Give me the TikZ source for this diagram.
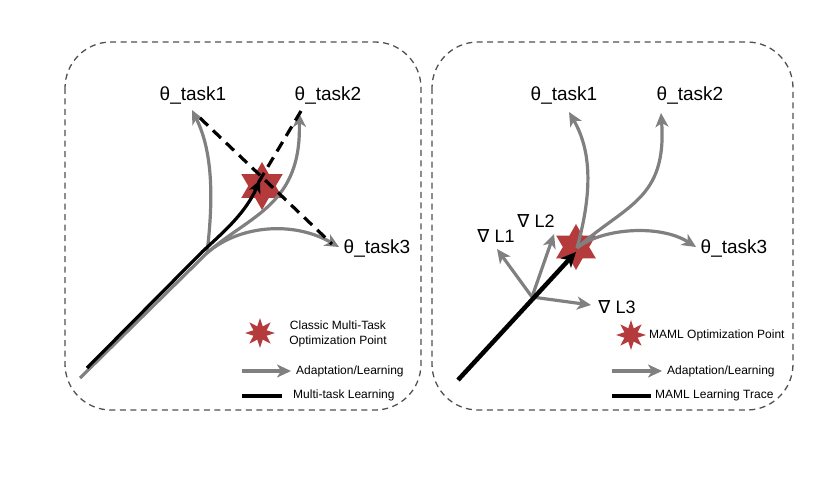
\documentclass[tikz,border=0pt]{standalone}
\usepackage{fontspec}
\setmainfont{Liberation Sans}
\newfontfamily\symfont{DejaVu Sans}
\usetikzlibrary{arrows.meta,shapes.geometric}
\definecolor{starred}{RGB}{180,58,60}
\definecolor{arrgray}{RGB}{128,128,128}
\definecolor{boxgray}{RGB}{80,80,80}
\tikzset{
  panel/.style={draw=boxgray,line width=1.3pt,dash pattern=on 6pt off 4.5pt,rounded corners=46pt},
  adapt/.style={draw=arrgray,line width=3.2pt,-{Stealth[length=14pt,width=13pt,inset=4pt]}},
  adaptnotip/.style={draw=arrgray,line width=3.2pt},
  mtl/.style={draw=black,line width=3.2pt},
  mtlarrow/.style={draw=black,line width=3.2pt,-{Stealth[length=13pt,width=12pt,inset=4pt]}},
  mamlarrow/.style={draw=black,line width=4.5pt,-{Stealth[length=15pt,width=14pt,inset=4pt]}},
  dashline/.style={draw=black,line width=3.2pt,dash pattern=on 11pt off 7pt},
  bigstar/.style={star,star points=6,star point ratio=1.75,fill=starred,inner sep=0pt,minimum size=#1},
  smallstar/.style={star,star points=8,star point ratio=2.1,fill=starred,inner sep=0pt,minimum size=#1},
  lbl/.style={font=\fontsize{19}{22}\selectfont,inner sep=0pt},
  leg/.style={font=\fontsize{12}{14.5}\selectfont,inner sep=0pt,align=center},
}
\begin{document}
\begin{tikzpicture}[x=1pt,y=-1pt]
\useasboundingbox (0,0) rectangle (832,492);
% panels
\draw[panel] (65,42) rectangle (421,410);
\draw[panel] (432,42) rectangle (793,410);

% ===== left panel =====
\node[bigstar=48pt] (lstar) at (262,186) {};
\node[lbl] (lt1) at (193,96) {θ\_task1};
\node[lbl] (lt2) at (328,96) {θ\_task2};
\node[lbl] (lt3) at (377,249) {θ\_task3};
\coordinate (lstart) at (80,378);
\coordinate (lbranch) at (207,253);
\coordinate (lbstart) at (87,368);
\coordinate (lbbranch) at (203,251);
\coordinate (lt1tip) at (192,110);
\coordinate (lt2tip) at (299,113);
\coordinate (lt3tip) at (339,247);
\coordinate (ld1a) at (200,118);
\coordinate (ld1b) at (332,244);
\coordinate (ld2a) at (301,111);
\coordinate (ld2b) at (254,190);
\coordinate (lmtltip) at (260,180);

\draw[adaptnotip] (lstart) -- (lbranch);
\draw[adapt] (lbranch) .. controls (214,195) and (212,150) .. (lt1tip);
\draw[adapt] (lbranch) .. controls (250,215) and (302,205) .. (lt2tip);
\draw[adapt] (lbranch) .. controls (238,226) and (292,220) .. (lt3tip);
\draw[mtlarrow] (lbstart) -- (lbbranch) .. controls (226,230) and (246,212) .. (lmtltip);
\draw[dashline] (ld1a) -- (ld1b);
\draw[dashline] (ld2a) -- (ld2b);

% left legend
\node[smallstar=30pt] (lls) at (260,333) {};
\node[leg] (llst) at (338,334) {Classic Multi-Task\\Optimization Point};
\coordinate (lla1) at (242,371);
\coordinate (lla2) at (291,371);
\draw[adapt] (lla1) -- (lla2);
\node[leg,anchor=west] (llat) at (296,371) {Adaptation/Learning};
\coordinate (llb1) at (242,396);
\coordinate (llb2) at (282,396);
\draw[mtl,line width=4pt] (llb1) -- (llb2);
\node[leg,anchor=west] (llbt) at (293,395) {Multi-task Learning};

% ===== right panel =====
\node[bigstar=46pt] (rstar) at (576,247) {};
\node[lbl] (rt1) at (564,96) {θ\_task1};
\node[lbl] (rt2) at (690,96) {θ\_task2};
\node[lbl] (rt3) at (734,249) {θ\_task3};
\node[lbl,font=\fontsize{18}{21}\selectfont] (gl1) at (496,236) {{\symfont∇} L1};
\node[lbl,font=\fontsize{18}{21}\selectfont] (gl2) at (536,221) {{\symfont∇} L2};
\node[lbl,font=\fontsize{18}{21}\selectfont] (gl3) at (617,307) {{\symfont∇} L3};
\coordinate (rs) at (577,248);
\coordinate (rt1tip) at (569,112);
\coordinate (rt2tip) at (661,113);
\coordinate (rt3tip) at (696,247);
\coordinate (rg) at (532,297);
\coordinate (rg1) at (497,249);
\coordinate (rg2) at (554,234);
\coordinate (rg3) at (591,305);
\coordinate (rbstart) at (458,380);
\coordinate (rbtip) at (576,252);

\draw[adapt] (rg) -- (rg1);
\draw[adapt] (rg) -- (rg2);
\draw[adapt] (rg) -- (rg3);
\draw[adapt] (rs) .. controls (593,190) and (591,150) .. (rt1tip);
\draw[adapt] (rs) .. controls (625,205) and (667,200) .. (rt2tip);
\draw[adapt] (rs) .. controls (602,228) and (660,224) .. (rt3tip);
\draw[mamlarrow] (rbstart) -- (rbtip);

% right legend
\node[smallstar=30pt] (rls) at (631,335) {};
\node[leg,anchor=west] (rlst) at (649,335) {MAML Optimization Point};
\coordinate (rla1) at (612,371);
\coordinate (rla2) at (662,371);
\draw[adapt] (rla1) -- (rla2);
\node[leg,anchor=west] (rlat) at (667,371) {Adaptation/Learning};
\coordinate (rlb1) at (612,396);
\coordinate (rlb2) at (651,396);
\draw[mtl,line width=4pt] (rlb1) -- (rlb2);
\node[leg,anchor=west] (rlbt) at (655,395) {MAML Learning Trace};
\end{tikzpicture}
\end{document}
